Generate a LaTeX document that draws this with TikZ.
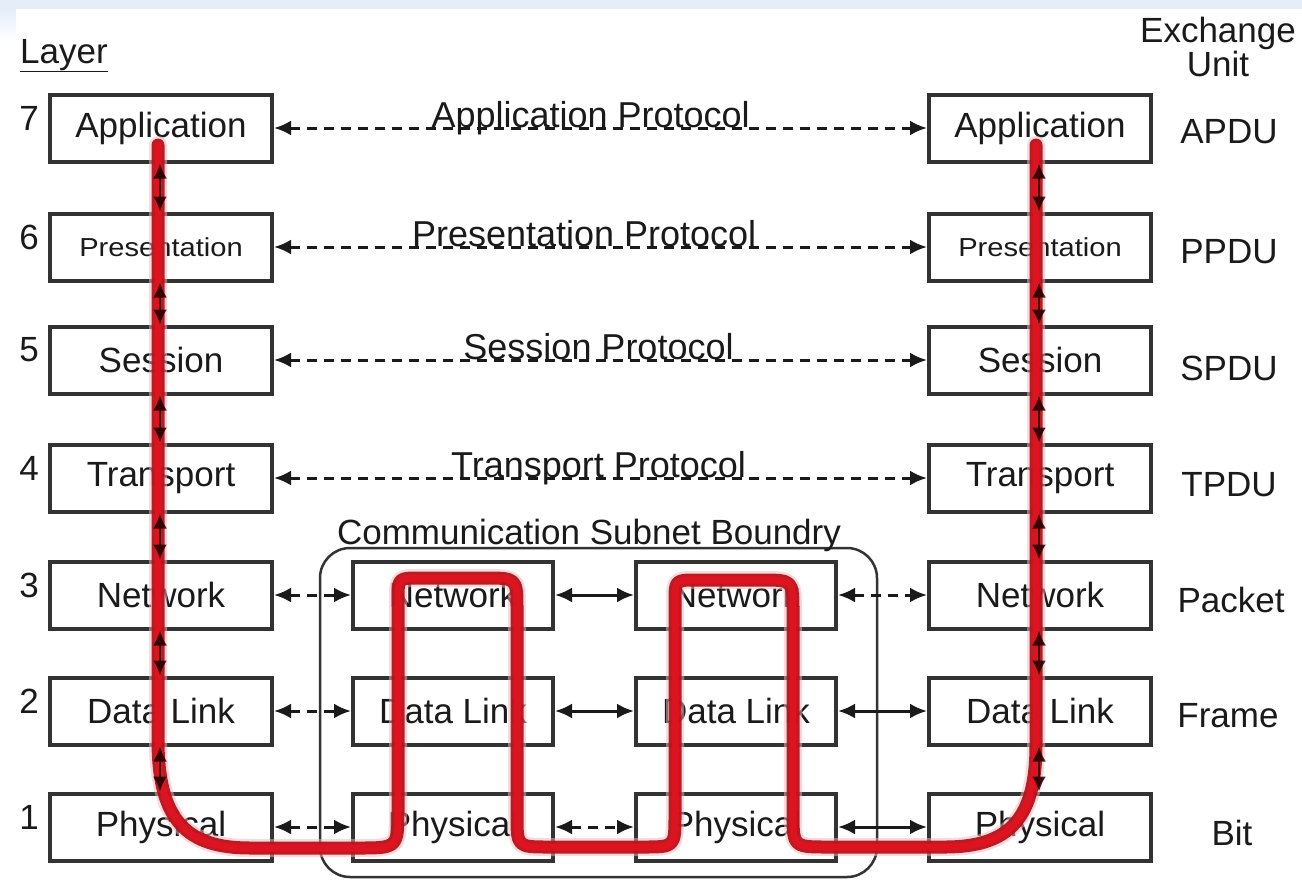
\documentclass[tikz,border=0pt]{standalone}
\usepackage{fontspec}
\usepackage{graphicx}
\setmainfont{Liberation Sans}
\usetikzlibrary{arrows.meta,calc}
\newcommand\bigtxt{\fontsize{35}{40}\selectfont}
\newcommand\protxt{\fontsize{36}{40}\selectfont}
\newcommand\prestxt{\fontsize{26}{30}\selectfont}
\definecolor{boxgray}{HTML}{333333}
\definecolor{txtgray}{HTML}{1A1A1A}
\definecolor{topblue}{HTML}{E4EDF8}
\definecolor{reddark}{HTML}{B8121B}
\definecolor{redmain}{HTML}{E0131F}
\definecolor{redhalo}{HTML}{F5B8BC}
\tikzset{
  layerbox/.style={draw=boxgray, line width=4pt, fill=white, minimum width=222pt, minimum height=67pt, inner sep=0pt, font=\bigtxt, text=txtgray},
  midbox/.style={layerbox, minimum width=200pt},
  lab/.style={font=\bigtxt, text=txtgray, inner sep=0pt},
  protolab/.style={font=\protxt, text=txtgray, inner sep=0pt, anchor=base},
  proto/.style={draw=txtgray, line width=3pt, dash pattern=on 10pt off 7pt, {Latex[length=17pt,width=15pt]}-{Latex[length=17pt,width=15pt]}},
  solidproto/.style={draw=txtgray, line width=3pt, {Latex[length=17pt,width=15pt]}-{Latex[length=17pt,width=15pt]}},
  vert/.style={draw=black, line width=2.5pt, {Latex[length=15pt,width=14pt]}-{Latex[length=15pt,width=14pt]}},
  redhalo/.style={draw=redhalo, line width=18pt, line cap=round, line join=round},
  redouter/.style={draw=reddark, line width=13pt, line cap=round, line join=round},
  redinner/.style={draw=redmain, line width=7pt, line cap=round, line join=round},
  boundary/.style={draw=boxgray, line width=2.5pt, rounded corners=30pt}
}
\begin{document}
\begin{tikzpicture}[x=1pt,y=-1pt]
\useasboundingbox (0,0) rectangle (1302,879);
\fill[white] (0,0) rectangle (1302,879);
\fill[topblue] (0,0) rectangle (1302,9);
\shade[top color=topblue, bottom color=white] (0,9) rectangle (16,40);

% headings
\node[lab, anchor=base west] (layerhead) at (20,63) {\underline{Layer}};
\node[lab, align=center] (exhead) at (1218,47) {Exchange\\[-6pt]Unit};

% subnet boundary
\node[boundary, minimum width=557pt, minimum height=329pt, inner sep=0pt] (subnet) at (598.5,712.5) {};
\node[lab, anchor=base] (subnetlab) at (589,544) {Communication Subnet Boundry};

% left stack
\node[layerbox] (L7) at (161,128) {Application};
\node[layerbox] (L6) at (161,247) {\prestxt\scalebox{1.12}[1]{Presentation}};
\node[layerbox] (L5) at (161,360) {Session};
\node[layerbox] (L4) at (161,478) {Transport};
\node[layerbox] (L3) at (161,595) {Network};
\node[layerbox] (L2) at (161,711) {Data Link};
\node[layerbox] (L1) at (161,827) {Physical};

% right stack
\node[layerbox] (R7) at (1040,128) {Application};
\node[layerbox] (R6) at (1040,247) {\prestxt\scalebox{1.12}[1]{Presentation}};
\node[layerbox] (R5) at (1040,360) {Session};
\node[layerbox] (R4) at (1040,478) {Transport};
\node[layerbox] (R3) at (1040,595) {Network};
\node[layerbox] (R2) at (1040,711) {Data Link};
\node[layerbox] (R1) at (1040,827) {Physical};

% middle routers
\node[midbox] (A3) at (453,595) {Network};
\node[midbox] (A2) at (453,711) {Data Link};
\node[midbox] (A1) at (453,827) {Physical};
\node[midbox] (B3) at (736,595) {Network};
\node[midbox] (B2) at (736,711) {Data Link};
\node[midbox] (B1) at (736,827) {Physical};

% layer numbers
\foreach \n/\b in {7/L7,6/L6,5/L5,4/L4,3/L3,2/L2,1/L1}
  \node[lab, anchor=east] (num\n) at ($(\b.west)+(-9,-10)$) {\n};

% exchange units
\node[lab] (uA) at (1229,132) {APDU};
\node[lab] (uP) at (1229,252) {PPDU};
\node[lab] (uS) at (1229,368) {SPDU};
\node[lab] (uT) at (1229,485) {TPDU};
\node[lab] (uN) at (1231,600) {Packet};
\node[lab] (uF) at (1228,716) {Frame};
\node[lab] (uB) at (1232,833) {Bit};

% peer protocols
\draw[proto] (L7.east) -- (R7.west) node[protolab, pos=0.485, yshift=1pt] {Application Protocol};
\draw[proto] (L6.east) -- (R6.west) node[protolab, pos=0.475, yshift=1pt] {Presentation Protocol};
\draw[proto] (L5.east) -- (R5.west) node[protolab, pos=0.497, yshift=1pt] {Session Protocol};
\draw[proto] (L4.east) -- (R4.west) node[protolab, pos=0.497, yshift=1pt] {Transport Protocol};

% subnet level peer links
\draw[proto] (L3.east) -- (A3.west);
\draw[proto] (L2.east) -- (A2.west);
\draw[proto] (L1.east) -- (A1.west);
\draw[solidproto] (A3.east) -- (B3.west);
\draw[solidproto] (A2.east) -- (B2.west);
\draw[proto] (A1.east) -- (B1.west);
\draw[proto] (B3.east) -- (R3.west);
\draw[solidproto] (B2.east) -- (R2.west);
\draw[solidproto] (B1.east) -- (R1.west);

% data path
\def\redpath{(158,145) -- (158,740) .. controls (158,822) and (188,848) .. (250,848) -- (358,848) .. controls (398,848) .. (398,808) -- (398,600) .. controls (398,578) .. (420,578) -- (485,578) .. controls (517,578) .. (517,610) -- (517,815) .. controls (517,847) .. (549,847) -- (643,847) .. controls (675,847) .. (675,815) -- (675,602) .. controls (675,580) .. (697,580) -- (761,580) .. controls (793,580) .. (793,612) -- (793,812) .. controls (793,847) .. (828,847) -- (945,847) .. controls (1010,847) and (1036,818) .. (1036,745) -- (1036,145)}
\draw[redhalo, opacity=0.5] \redpath;
\draw[redouter, opacity=0.95] \redpath;
\draw[redinner, opacity=0.95] \redpath;

% vertical interface arrows, showing through the data path
\foreach \u/\d in {L7/L6,L6/L5,L5/L4,L4/L3,L3/L2,L2/L1,R7/R6,R6/R5,R5/R4,R4/R3,R3/R2,R2/R1}
  \draw[vert, draw=black!85!red, opacity=0.85] ([xshift=-1pt]\u.south) -- ([xshift=-1pt]\d.north);
\end{tikzpicture}
\end{document}
